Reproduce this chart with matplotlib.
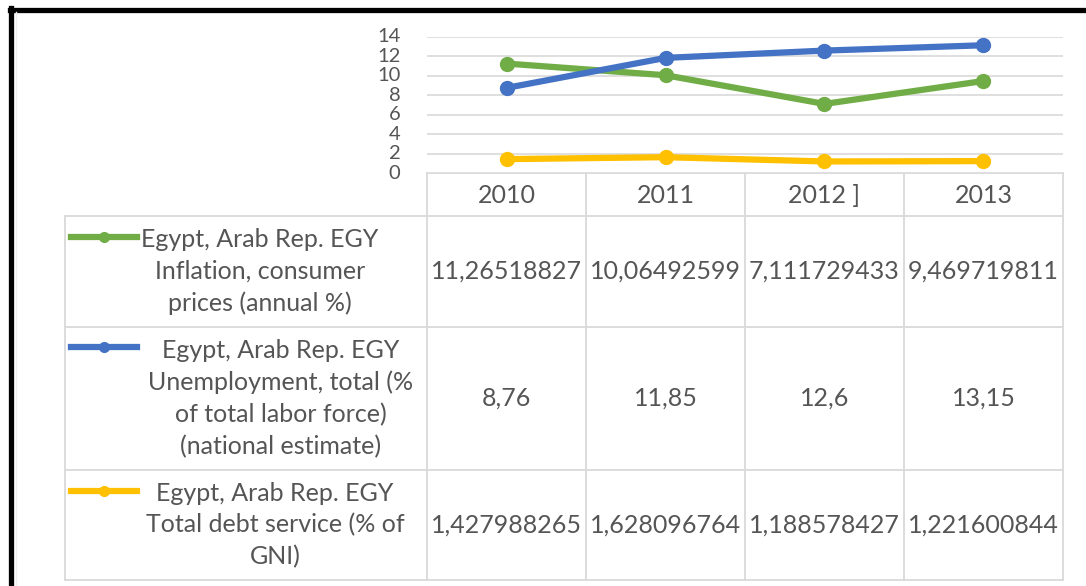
import matplotlib.pyplot as plt
from matplotlib.lines import Line2D

years = ["2010", "2011", "2012 ]", "2013"]
inflation = [11.26518827, 10.06492599, 7.111729433, 9.469719811]
unemployment = [8.76, 11.85, 12.6, 13.15]
debt_service = [1.427988265, 1.628096764, 1.188578427, 1.221600844]

inflation_txt = ["11,26518827", "10,06492599", "7,111729433", "9,469719811"]
unemployment_txt = ["8,76", "11,85", "12,6", "13,15"]
debt_txt = ["1,427988265", "1,628096764", "1,188578427", "1,221600844"]

labels = [
    "Egypt, Arab Rep. EGY\nInflation, consumer\nprices (annual %)",
    "Egypt, Arab Rep. EGY\nUnemployment, total (%\nof total labor force)\n(national estimate)",
    "Egypt, Arab Rep. EGY\nTotal debt service (% of\nGNI)",
]
colors = ["#70AD47", "#4472C4", "#FFC000"]
series = [inflation, unemployment, debt_service]
cell_txt = [inflation_txt, unemployment_txt, debt_txt]

W, H = 1086, 586
TXT = "#555555"
GRID = "#D9D9D9"
FONT = "Lato"
FS = 18

plt.rcParams['font.family'] = [FONT, 'DejaVu Sans']

fig = plt.figure(figsize=(W / 100, H / 100), dpi=100)

# plot area in pixels
px_l, px_r, px_top, px_bot = 427, 1063, 37, 173
ax = fig.add_axes([px_l / W, 1 - px_bot / H, (px_r - px_l) / W, (px_bot - px_top) / H])
x = list(range(len(years)))
for vals, c in zip(series, colors):
    ax.plot(x, vals, color=c, lw=4.5, marker='o', ms=10, solid_capstyle='round')
ax.set_xlim(-0.5, len(years) - 0.5)
ax.set_ylim(0, 14)
ax.set_yticks(range(0, 15, 2))
ax.set_xticks([])
ax.grid(axis='y', color=GRID, lw=1.2)
ax.set_axisbelow(True)
for s in ax.spines.values():
    s.set_visible(False)
ax.tick_params(axis='y', length=0, pad=19, labelsize=14.5, labelcolor=TXT)
for t in ax.get_yticklabels():
    t.set_va('center')

# table overlay in pixel coords
tab = fig.add_axes([0, 0, 1, 1], zorder=-1)
tab.set_xlim(0, W)
tab.set_ylim(H, 0)
tab.axis('off')

col_w = (px_r - px_l) / len(years)
col_edges = [px_l + i * col_w for i in range(len(years) + 1)]
row_edges = [216, 327, 470, 580]
tbl_l = 65

def hline(y, x0, x1, c=GRID, lw=1.3):
    tab.add_line(Line2D([x0, x1], [y, y], color=c, lw=lw))

def vline(xx, y0, y1, c=GRID, lw=1.3):
    tab.add_line(Line2D([xx, xx], [y0, y1], color=c, lw=lw))

hline(px_bot, px_l, px_r)
for y in row_edges:
    hline(y, tbl_l, px_r)
vline(tbl_l, row_edges[0], row_edges[-1])
for xx in col_edges:
    vline(xx, px_bot, row_edges[-1])

for i, yr in enumerate(years):
    cx = (col_edges[i] + col_edges[i + 1]) / 2
    tab.text(cx, (px_bot + row_edges[0]) / 2 + 1, yr, ha='center', va='center',
             fontsize=FS, color=TXT)

label_cx = [260, 281, 275]
key_y = [237, 347, 491]
for r in range(len(series)):
    cy = (row_edges[r] + row_edges[r + 1]) / 2
    tab.text(label_cx[r], cy, labels[r], ha='center', va='center', fontsize=FS,
             color=TXT, linespacing=1.45, multialignment='center')
    tab.add_line(Line2D([71, 137], [key_y[r], key_y[r]], color=colors[r], lw=4.5))
    tab.plot([104], [key_y[r]], 'o', color=colors[r], ms=7)
    for i, t in enumerate(cell_txt[r]):
        cx = (col_edges[i] + col_edges[i + 1]) / 2
        tab.text(cx, cy, t, ha='center', va='center', fontsize=FS, color=TXT)

# screenshot frame (top and left)
tab.add_line(Line2D([10, W], [9.5, 9.5], color='black', lw=3.8))
tab.add_line(Line2D([11, 11], [8, H], color='black', lw=3.8))
vline(16, 12, H, c="#EEEEEE", lw=1)

fig.savefig("out.png", dpi=100)
